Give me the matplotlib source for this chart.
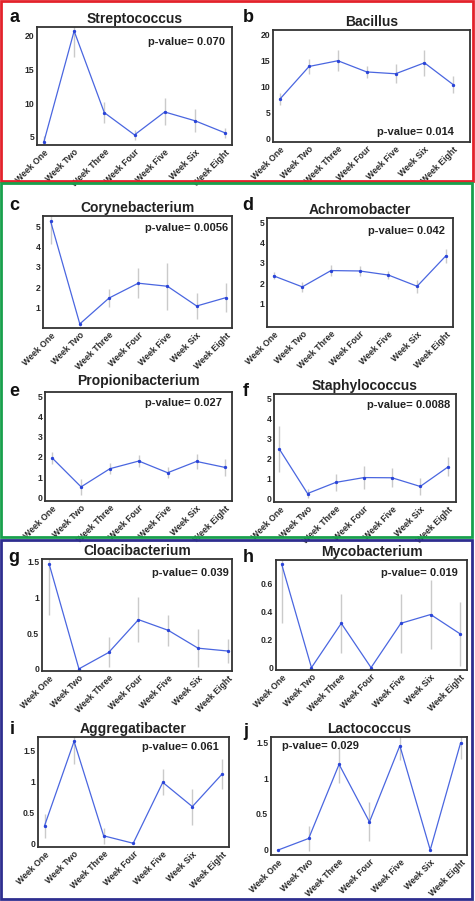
import numpy as np
import matplotlib
matplotlib.use("Agg")
import matplotlib.pyplot as plt
from matplotlib.patches import Rectangle

plt.rcParams['font.family'] = ['Liberation Sans', 'DejaVu Sans']

weeks = ["Week One", "Week Two", "Week Three", "Week Four",
         "Week Five", "Week Six", "Week Eight"]

strep_mean = [4.3, 20.7, 8.6, 5.3, 8.7, 7.4, 5.6]
strep_err = [0.8, 3.9, 1.6, 0.7, 2.0, 1.7, 0.7]
bacil_mean = [7.6, 13.8, 14.9, 12.75, 12.4, 14.5, 10.3]
bacil_err = [1.2, 1.4, 2.0, 1.2, 1.8, 2.5, 1.6]
coryne_mean = [5.24, 0.2, 1.47, 2.2, 2.05, 1.08, 1.49]
coryne_err = [1.1, 0.1, 0.45, 0.74, 1.15, 0.63, 0.7]
achro_mean = [2.36, 1.82, 2.62, 2.6, 2.4, 1.85, 3.34]
achro_err = [0.17, 0.25, 0.28, 0.25, 0.2, 0.33, 0.33]
propi_mean = [1.95, 0.52, 1.42, 1.8, 1.22, 1.78, 1.48]
propi_err = [0.28, 0.4, 0.28, 0.28, 0.27, 0.35, 0.4]
staph_mean = [2.47, 0.27, 0.82, 1.06, 1.05, 0.62, 1.6]
staph_err = [1.15, 0.2, 0.42, 0.55, 0.47, 0.42, 0.47]
cloac_mean = [1.47, 0.0, 0.23, 0.69, 0.54, 0.29, 0.25]
cloac_err = [0.71, 0.0, 0.21, 0.32, 0.22, 0.27, 0.17]
myco_mean = [0.74, 0.0, 0.317, 0.0, 0.317, 0.38, 0.24]
myco_err = [0.42, 0.0, 0.21, 0.0, 0.21, 0.25, 0.23]
aggre_mean = [0.28, 1.64, 0.12, 0.0, 0.98, 0.59, 1.11]
aggre_err = [0.19, 0.36, 0.13, 0.0, 0.21, 0.29, 0.24]
lacto_mean = [0.0, 0.16, 1.19, 0.39, 1.45, 0.0, 1.49]
lacto_err = [0.0, 0.17, 0.26, 0.27, 0.2, 0.0, 0.22]

titles = ["Streptococcus", "Bacillus", "Corynebacterium", "Achromobacter",
          "Propionibacterium", "Staphylococcus", "Cloacibacterium",
          "Mycobacterium", "Aggregatibacter", "Lactococcus"]
letters = list("abcdefghij")
pvalues = ["0.070", "0.014", "0.0056", "0.042", "0.027", "0.0088",
           "0.039", "0.019", "0.061", "0.029"]
means = [strep_mean, bacil_mean, coryne_mean, achro_mean, propi_mean,
         staph_mean, cloac_mean, myco_mean, aggre_mean, lacto_mean]
errs = [strep_err, bacil_err, coryne_err, achro_err, propi_err,
        staph_err, cloac_err, myco_err, aggre_err, lacto_err]
yticks = [[5, 10, 15, 20], [0, 5, 10, 15, 20], [1, 2, 3, 4, 5], [1, 2, 3, 4, 5],
          [0, 1, 2, 3, 4, 5], [0, 1, 2, 3, 4, 5], [0, 0.5, 1, 1.5],
          [0, 0.2, 0.4, 0.6], [0, 0.5, 1, 1.5], [0, 0.5, 1, 1.5]]
ytick_labels = [["5", "10", "15", "20"], ["0", "5", "10", "15", "20"],
                ["1", "2", "3", "4", "5"], ["1", "2", "3", "4", "5"],
                ["0", "1", "2", "3", "4", "5"], ["0", "1", "2", "3", "4", "5"],
                ["0", "0.5", "1", "1.5"], ["0", "0.2", "0.4", "0.6"],
                ["0", "0.5", "1", "1.5"], ["0", "0.5", "1", "1.5"]]

W, H = 475, 901
fig = plt.figure(figsize=(W / 100, H / 100), dpi=100)

# layout in pixels: left, top, right, bottom
boxes = [(37, 27, 232, 145), (273, 30, 470, 142),
         (43, 216, 232, 328), (267, 218, 453, 327),
         (45, 392, 232, 501), (274, 394, 456, 502),
         (42, 559, 232, 671), (276, 560, 467, 670),
         (38, 737, 229, 847), (271, 737, 467, 855)]
xlims = [(-0.23, 6.23), (-0.25, 6.58), (-0.26, 6.21), (-0.23, 6.25),
         (-0.25, 6.23), (-0.19, 6.27), (-0.24, 6.14), (-0.19, 6.22),
         (-0.22, 6.24), (-0.24, 6.21)]
ylims = [(3.8, 21.3), (-0.7, 20.8), (0.0, 5.5), (-0.15, 5.2),
         (-0.18, 5.22), (-0.15, 5.2), (-0.03, 1.54), (-0.017, 0.77),
         (-0.06, 1.71), (-0.07, 1.57)]
ppos = [(0.964, 0.873, 'right'), (0.919, 0.092, 'right'),
        (0.977, 0.895, 'right'), (0.955, 0.881, 'right'),
        (0.948, 0.899, 'right'), (0.967, 0.898, 'right'),
        (0.982, 0.875, 'right'), (0.953, 0.882, 'right'),
        (0.946, 0.91, 'right'), (0.055, 0.924, 'left')]
letter_pos = [(14, 18), (248, 17), (14, 205), (248, 205), (14, 392),
              (246, 392), (14, 557), (248, 557), (12, 730), (246, 731)]
title_pad = [3, 3, 3, 3, 5, 3, 3, 3, 3, 3]

x = np.arange(len(weeks))
for k in range(10):
    l, t, r, b = boxes[k]
    ax = fig.add_axes([l / W, 1 - b / H, (r - l) / W, (b - t) / H])
    ax.errorbar(x, means[k], yerr=errs[k], fmt='none', ecolor='#cacaca',
                elinewidth=1.0, capsize=0, zorder=1)
    ax.plot(x, means[k], color='#4a66e0', lw=0.9, marker='o', ms=1.4,
            mfc='#2a44d8', mec='#2a44d8', zorder=2)
    ax.set_xlim(*xlims[k])
    ax.set_ylim(*ylims[k])
    ax.set_xticks(x)
    ax.set_xticklabels(weeks, rotation=45, ha='right', rotation_mode='anchor',
                       fontsize=6.3, fontweight='bold', color='#2a2a2a')
    ax.set_yticks(yticks[k])
    ax.set_yticklabels(ytick_labels[k], fontsize=6.2, fontweight='bold',
                       color='#2a2a2a')
    ax.tick_params(length=0, pad=2)
    for s in ax.spines.values():
        s.set_color('#333333')
        s.set_linewidth(1.3)
    ax.set_title(titles[k], fontsize=10, fontweight='bold', pad=title_pad[k],
                 color='#222222')
    px, py, ha = ppos[k]
    ax.text(px, py, "p-value= " + pvalues[k], transform=ax.transAxes,
            ha=ha, va='center', fontsize=8, fontweight='bold', color='#222222')
    lx, ly = letter_pos[k]
    fig.text(lx / W, 1 - ly / H, letters[k], fontsize=13, fontweight='bold',
             ha='center', va='center', color='#111111')

# coloured group frames
frames = [((1, 1, 473, 181), '#e3222b'), ((1, 183, 472, 537), '#18a04c'),
          ((1, 540, 472, 899), '#2e2e8f')]
for (l, t, r, b), c in frames:
    fig.patches.append(Rectangle((l / W, 1 - b / H), (r - l) / W, (b - t) / H,
                                 transform=fig.transFigure, fill=False,
                                 edgecolor=c, linewidth=2.0))

fig.savefig("out.png", dpi=100)
